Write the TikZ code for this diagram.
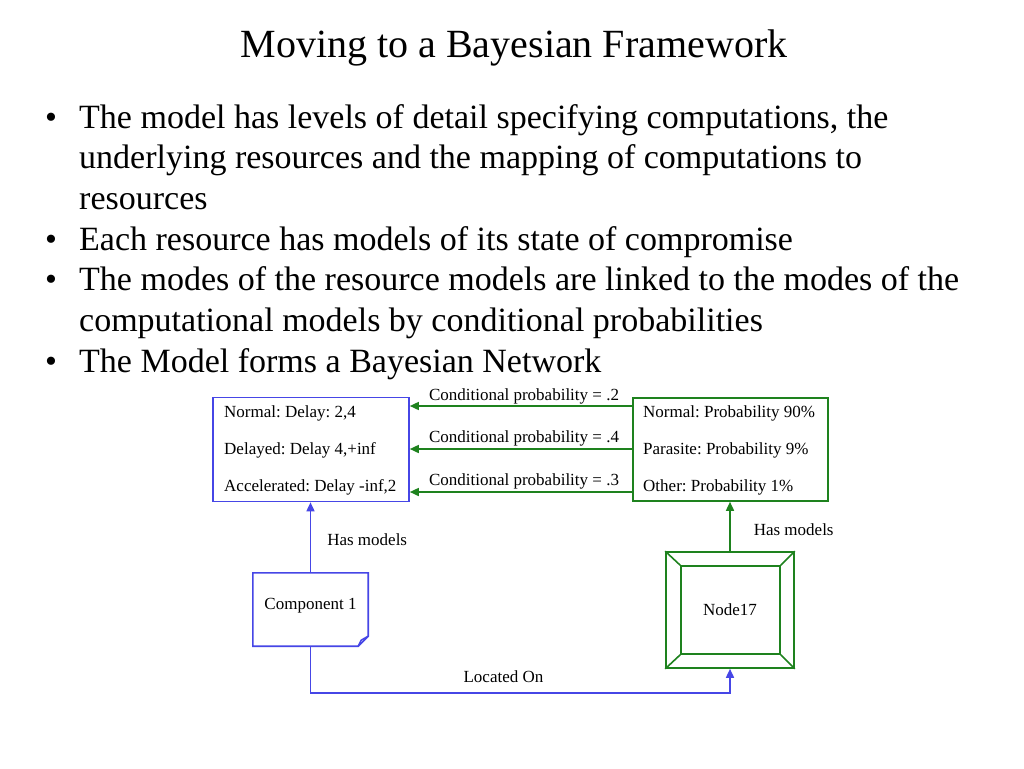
\documentclass[tikz,border=0pt]{standalone}
\usepackage{fontspec}
\setmainfont{Liberation Serif}
\usepackage{tikz}
\usetikzlibrary{positioning,arrows.meta}
\definecolor{modelblue}{RGB}{70,70,230}
\definecolor{modelgreen}{RGB}{30,130,30}
\frenchspacing

\begin{document}
\begin{tikzpicture}[x=1pt,y=-1pt,
  bigtext/.style={font=\fontsize{34}{40}\selectfont, inner sep=0pt, anchor=base west},
  smalltext/.style={font=\fontsize{17}{20}\selectfont, inner sep=0pt},
  boxtext/.style={smalltext, anchor=base west},
  bline/.style={draw=modelblue, line width=1.6pt},
  gline/.style={draw=modelgreen, line width=1.6pt},
  barrow/.style={bline, -{Triangle[length=9pt,width=8pt]}},
  garrow/.style={gline, -{Triangle[length=9pt,width=8pt]}}]
\useasboundingbox (0,0) rectangle (1024,768);
\fill[white] (0,0) rectangle (1024,768);

\node[anchor=base, font=\fontsize{40}{48}\selectfont, inner sep=0pt] (title) at (514,58) {Moving to a Bayesian Framework};

% bullets
\node[bigtext] (b1) at (45,128) {\textbullet};
\node[bigtext] (l1) at (79,128) {The model has levels of detail specifying computations, the};
\node[bigtext] (l2) at (79,168.5) {underlying resources and the mapping of computations to};
\node[bigtext] (l3) at (79,209) {resources};
\node[bigtext] (b2) at (45,250) {\textbullet};
\node[bigtext] (l4) at (79,250) {Each resource has models of its state of compromise};
\node[bigtext] (b3) at (45,290.5) {\textbullet};
\node[bigtext] (l5) at (79,290.5) {The modes of the resource models are linked to the modes of the};
\node[bigtext] (l6) at (79,331) {computational models by conditional probabilities};
\node[bigtext] (b4) at (45,372) {\textbullet};
\node[bigtext] (l7) at (79,372) {The Model forms a Bayesian Network};

% mode boxes
\node[bline, minimum width=196pt, minimum height=104pt, inner sep=0pt] (modes) at (311,449.5) {};
\node[boxtext] (m1) at (224,417) {Normal: Delay: 2,4};
\node[boxtext] (m2) at (224,454) {Delayed: Delay 4,+inf};
\node[boxtext] (m3) at (224,491.5) {Accelerated: Delay -inf,2};

\node[gline, minimum width=195pt, minimum height=103pt, inner sep=0pt] (probs) at (730.5,449.5) {};
\node[boxtext] (p1) at (643,417) {Normal: Probability 90\%};
\node[boxtext] (p2) at (643,454) {Parasite: Probability 9\%};
\node[boxtext] (p3) at (643,491) {Other: Probability 1\%};

\draw[garrow] (probs.west |- 0,406) -- node[smalltext, above=1pt, xshift=3pt] (c1) {Conditional probability = .2} (modes.east |- 0,406);
\draw[garrow] (probs.west |- 0,449) -- node[smalltext, above=2pt, xshift=3pt] (c2) {Conditional probability = .4} (modes.east |- 0,449);
\draw[garrow] (probs.west |- 0,492) -- node[smalltext, above=2pt, xshift=3pt] (c3) {Conditional probability = .3} (modes.east |- 0,492);

% component
\node[smalltext, minimum width=115pt, minimum height=73pt] (comp) at (310.5,609.5) {};
\node[smalltext] (comptext) at ([yshift=4pt]comp.center) {Component 1};
\draw[bline] (comp.north west) -- (comp.north east) -- ([yshift=10pt]comp.south east)
  -- ([xshift=-10pt]comp.south east) -- (comp.south west) -- cycle;
\draw[bline] ([yshift=10pt]comp.south east) -- ([shift={(-7pt,6pt)}]comp.south east) -- ([xshift=-10pt]comp.south east);
\draw[barrow] (comp.north) -- node[smalltext, right=16pt, yshift=-2pt] (hm1) {Has models} (comp.north |- modes.south);

% node17
\node[gline, smalltext, minimum width=128pt, minimum height=116pt] (node17) at (730,610) {Node17};
\node[gline, minimum width=99pt, minimum height=88pt, inner sep=0pt] (node17in) at (730.5,610) {};
\foreach \c in {north west, north east, south west, south east}
  \draw[gline] (node17.\c) -- (node17in.\c);
\draw[garrow] (node17.north) -- node[smalltext, right=23pt, yshift=-3.5pt] (hm2) {Has models} (node17.north |- probs.south);

\draw[barrow] (comp.south) -- (comp.south |- 0,693)
  -- node[smalltext, pos=.46, above=10pt] (loc) {Located On} (node17.south |- 0,693) -- (node17.south);
\end{tikzpicture}
\end{document}
